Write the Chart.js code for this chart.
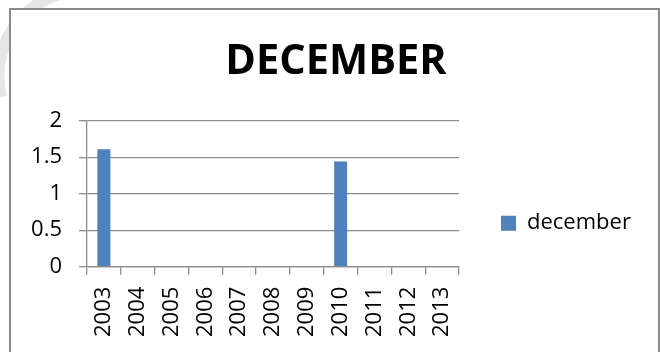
<!DOCTYPE html>
<html>
<head>
<meta charset="utf-8">
<script src="https://cdn.jsdelivr.net/npm/chart.js@4/dist/chart.umd.min.js"></script>
<style>
html,body{margin:0;padding:0;background:#fff;}
#wrap{position:relative;width:660px;height:352px;overflow:hidden;background:#fff;}
#wm{position:absolute;left:0;top:0;}
#frame{position:absolute;left:9px;top:8px;width:647px;height:400px;border:2px solid #8a8a8a;box-sizing:content-box;background:#fff;}
canvas{position:absolute;left:0;top:0;}
</style>
</head>
<body>
<div id="wrap">
<svg id="wm" width="120" height="120"><path d="M 1 97 A 86 86 0 0 1 60 -6" stroke="#e6e6e6" stroke-width="12" fill="none"/></svg>
<div id="frame"></div>
<canvas id="c" width="660" height="352"></canvas>
</div>
<script>
const categories = ['2003','2004','2005','2006','2007','2008','2009','2010','2011','2012','2013'];
const decemberValues = [1.61, null, null, null, null, null, null, 1.44, null, null, null];
const seriesName = 'december';
const chartTitle = 'DECEMBER';
const yTickValues = [0, 0.5, 1, 1.5, 2];

const FONT = "'Open Sans', 'Liberation Sans', sans-serif";
const GRID = '#8c8c8c';

const legendWidthPlugin = {
  id: 'legendWidth',
  afterInit(chart) {
    const lg = chart.legend;
    if (!lg) return;
    const orig = lg.fit.bind(lg);
    lg.fit = function () { orig(); this.width = 201; };
  }
};

new Chart(document.getElementById('c'), {
  type: 'bar',
  data: {
    labels: categories,
    datasets: [{
      label: seriesName,
      data: decemberValues,
      backgroundColor: '#4f81bd',
      borderWidth: 0,
      categoryPercentage: 1,
      barPercentage: 0.385
    }]
  },
  options: {
    responsive: false,
    animation: false,
    devicePixelRatio: 1,
    layout: { padding: { left: 12, right: 0, top: 0, bottom: 0 } },
    plugins: {
      title: {
        display: true,
        text: chartTitle,
        color: '#000',
        font: { family: FONT, size: 41.5, weight: 'bold', lineHeight: 1.2 },
        padding: { top: 37, bottom: 33.9 }
      },
      legend: {
        display: true,
        position: 'right',
        fullSize: false,
        align: 'start',
        title: { display: true, text: ' ', font: { size: 10, lineHeight: 1 }, padding: { top: 39.5, bottom: 0 } },
        labels: {
          color: '#000',
          font: { family: FONT, size: 22 },
          boxWidth: 15,
          boxHeight: 15,
          padding: 42
        }
      },
      tooltip: { enabled: false }
    },
    scales: {
      x: {
        grid: { display: true, drawOnChartArea: false, drawTicks: true, tickLength: 8, offset: true, color: GRID, lineWidth: 1.3 },
        border: { display: true, color: GRID, width: 1.3 },
        ticks: { color: '#000', font: { family: FONT, size: 22 }, maxRotation: 90, minRotation: 90, padding: 12, autoSkip: false },
        afterFit(scale) { scale.height = 85.3; }
      },
      y: {
        min: 0,
        max: 2,
        afterBuildTicks(scale) { scale.ticks = yTickValues.map(v => ({ value: v })); },
        grid: { display: true, drawTicks: true, tickLength: 8, color: GRID, lineWidth: 1.3 },
        border: { display: true, color: GRID, width: 1.3 },
        ticks: { color: '#000', font: { family: FONT, size: 22 }, padding: 17, callback: (v) => String(v) },
        afterFit(scale) { scale.width = 75; }
      }
    }
  },
  plugins: [legendWidthPlugin]
});
</script>
</body>
</html>
